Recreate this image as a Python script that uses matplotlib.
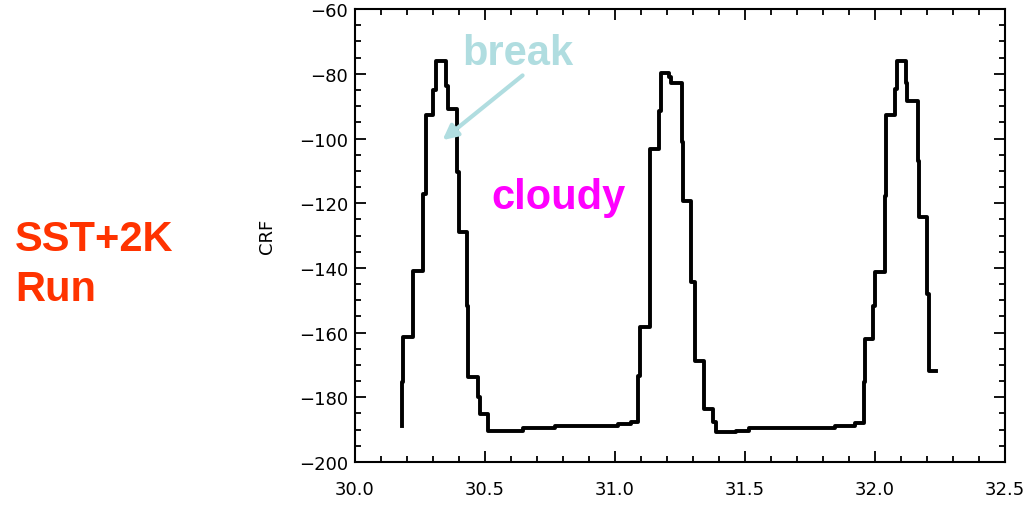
import matplotlib.pyplot as plt
from matplotlib.ticker import MultipleLocator

# step knots (steps-post): value y holds from x[i] to x[i+1]
time = [30.180, 30.180, 30.186, 30.225, 30.263, 30.272, 30.301, 30.312, 30.349,
        30.359, 30.391, 30.399, 30.430, 30.436, 30.474, 30.481, 30.512, 30.645,
        30.769, 31.013, 31.064, 31.090, 31.096, 31.135, 31.170, 31.177, 31.209,
        31.218, 31.257, 31.263, 31.295, 31.308, 31.342, 31.378, 31.391, 31.468,
        31.517, 31.846, 31.923, 31.958, 31.962, 31.993, 32.000, 32.041, 32.045,
        32.077, 32.086, 32.119, 32.124, 32.166, 32.170, 32.201, 32.209, 32.237]
crf = [-188.8, -175.3, -161.4, -140.9, -117.2, -92.8, -84.9, -76.0, -83.7,
       -90.9, -110.5, -129.0, -151.7, -173.8, -180.0, -185.3, -190.3, -189.6,
       -188.8, -188.3, -187.5, -173.3, -158.4, -103.3, -91.4, -79.6, -81.1,
       -82.7, -101.2, -119.2, -144.5, -168.7, -183.5, -187.7, -190.7, -190.4,
       -189.6, -188.8, -188.1, -175.3, -162.0, -151.7, -141.4, -117.7, -92.8,
       -84.7, -76.0, -82.7, -88.3, -106.9, -124.4, -148.1, -171.8, -171.8]

fig = plt.figure(figsize=(10.23, 5.06), dpi=100)
ax = fig.add_axes([0.347, 0.085, 0.635, 0.895])

ax.plot(time, crf, drawstyle="steps-post", color="black", lw=2.8)

ax.set_xlim(30.0, 32.5)
ax.set_ylim(-200, -60)
ax.xaxis.set_major_locator(MultipleLocator(0.5))
ax.xaxis.set_minor_locator(MultipleLocator(0.1))
ax.yaxis.set_major_locator(MultipleLocator(20))
ax.yaxis.set_minor_locator(MultipleLocator(5))
ax.xaxis.set_major_formatter(plt.FuncFormatter(lambda v, p: f"{v:.1f}"))
ax.tick_params(which="both", direction="in", top=True, right=True, width=1.3,
               labelsize=13)
ax.tick_params(which="major", length=8)
ax.tick_params(which="minor", length=4)
ax.tick_params(axis="x", pad=13)
ax.tick_params(axis="y", pad=5)
for s in ax.spines.values():
    s.set_linewidth(1.5)

ax.set_ylabel("CRF", fontsize=13)
ax.yaxis.set_label_coords(-0.122, 0.5)

bold = dict(family="Liberation Sans", fontweight="bold", fontsize=30)
ax.annotate("", xy=(30.337, -100.5), xytext=(30.645, -80.5),
            arrowprops=dict(arrowstyle="-|>", color="#B0DDE0", lw=3,
                            mutation_scale=22, shrinkA=0, shrinkB=0))
ax.text(30.625, -73.5, "break", color="#B0DDE0", ha="center", va="center", **bold)
ax.text(30.785, -118.0, "cloudy", color="#FF00FF", ha="center", va="center", **bold)

fig.text(15 / 1023, 1 - 240 / 506, "SST+2K", color="#FF3300", ha="left", va="center", **bold)
fig.text(15 / 1023, 1 - 290 / 506, "Run", color="#FF3300", ha="left", va="center", **bold)

fig.savefig("out.png", dpi=100)
